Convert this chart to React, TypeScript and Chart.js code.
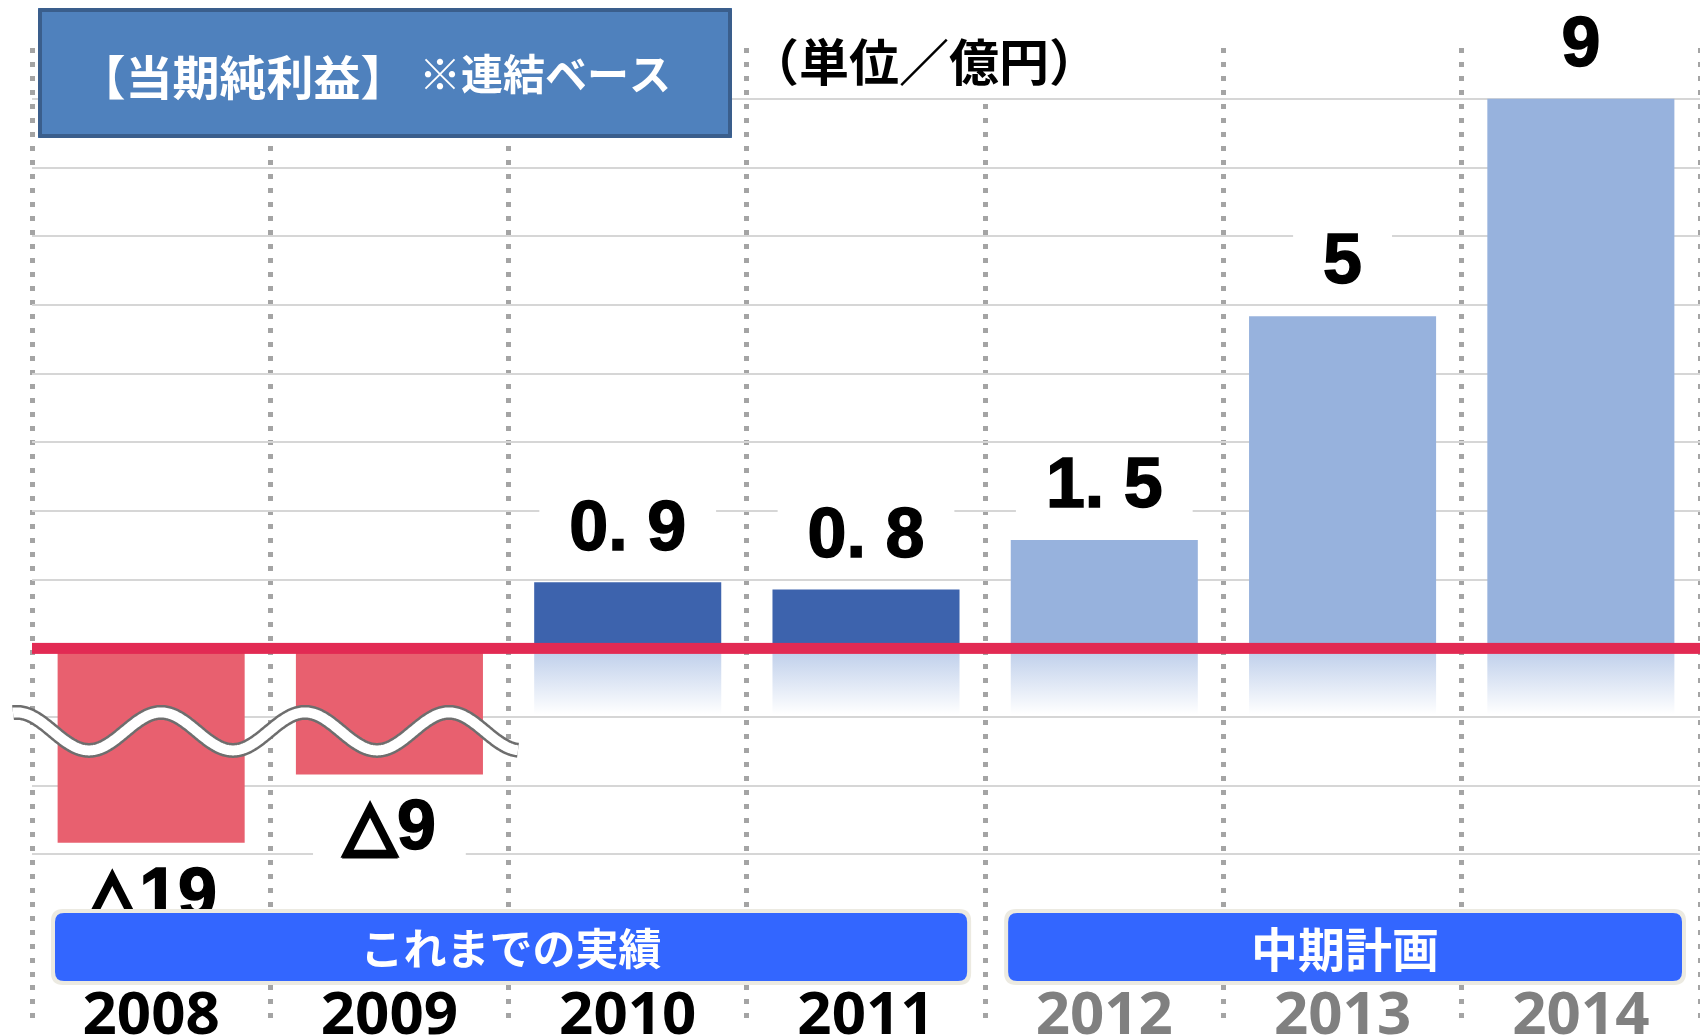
import React, { useEffect, useRef } from 'react';
import { Chart, registerables, LinearScale } from 'chart.js';

Chart.register(...registerables);

// ---------- data ----------
const years = ['2008', '2009', '2010', '2011', '2012', '2013', '2014'];
const netIncome = [-19, -9, 0.9, 0.8, 1.5, 5, 9];
const valueLabels = ['△19', '△9', '0. 9', '0. 8', '1. 5', '5', '9'];
const isPlan = [false, false, false, false, true, true, true];
const titleMain = '【当期純利益】';
const titleSub = '※連結ベース';
const unitLabel = '（単位／億円）';
const actualBandLabel = 'これまでの実績';
const planBandLabel = '中期計画';

// ---------- broken (compressed) value axis ----------
const POS_A = 19.73, POS_C = 18, NEG_A = 1.894, NEG_C = 5.5;
function toAxis(v: number) {
  return v >= 0 ? POS_A * Math.log(1 + v / POS_C) : -NEG_A * Math.log(1 - v / NEG_C);
}
function fromAxis(u: number) {
  return u >= 0 ? POS_C * (Math.exp(u / POS_A) - 1) : -NEG_C * (Math.exp(-u / NEG_A) - 1);
}

class BrokenScale extends LinearScale {
  static id = 'broken';
  static defaults = LinearScale.defaults;
  getPixelForValue(value: any) {
    if (value === null || value === undefined || isNaN(value)) return NaN;
    return super.getPixelForValue(toAxis(value));
  }
  getValueForPixel(pixel: number) {
    return fromAxis(super.getValueForPixel(pixel) as number);
  }
  getPixelForTick(index: number) {
    const ticks = (this as any).ticks;
    if (index < 0 || index > ticks.length - 1) return null as any;
    return super.getPixelForValue(ticks[index].value);
  }
}
Chart.register(BrokenScale as any);

const COLOR_NEG = '#E8606F';
const COLOR_ACTUAL = '#3D63AD';
const COLOR_PLAN = '#97B2DD';
const COLOR_ZERO = '#E22A53';
const BAND_BLUE = '#3366FF';
const BAND_EDGE = '#ECEAE1';
const CJK = '"Noto Sans CJK JP", sans-serif';
const NUM_FONT = '"Liberation Sans", "DejaVu Sans", "Noto Sans CJK JP", sans-serif';

const barColors = netIncome.map((v, i) => (v < 0 ? COLOR_NEG : isPlan[i] ? COLOR_PLAN : COLOR_ACTUAL));

function roundRect(ctx: CanvasRenderingContext2D, x: number, y: number, w: number, h: number, r: number) {
  ctx.beginPath();
  ctx.moveTo(x + r, y);
  ctx.lineTo(x + w - r, y);
  ctx.quadraticCurveTo(x + w, y, x + w, y + r);
  ctx.lineTo(x + w, y + h - r);
  ctx.quadraticCurveTo(x + w, y + h, x + w - r, y + h);
  ctx.lineTo(x + r, y + h);
  ctx.quadraticCurveTo(x, y + h, x, y + h - r);
  ctx.lineTo(x, y + r);
  ctx.quadraticCurveTo(x, y, x + r, y);
  ctx.closePath();
}

const decor = {
  id: 'decor',
  beforeDatasetsDraw(chart: any) {
    const ctx: CanvasRenderingContext2D = chart.ctx;
    const meta = chart.getDatasetMeta(0);
    const zero = chart.scales.y.getPixelForValue(0);
    ctx.save();
    meta.data.forEach((bar: any, i: number) => {
      if (netIncome[i] <= 0) return;
      const { x, width } = bar.getProps(['x', 'width'], true);
      const g = ctx.createLinearGradient(0, zero, 0, zero + 66);
      g.addColorStop(0, '#BCCDEA');
      g.addColorStop(1, '#FFFFFF');
      ctx.fillStyle = g;
      ctx.fillRect(x - width / 2, zero, width, 66);
    });
    ctx.restore();
  },
  afterDatasetsDraw(chart: any) {
    const ctx: CanvasRenderingContext2D = chart.ctx;
    const area = chart.chartArea;
    const xs = chart.scales.x;
    const ys = chart.scales.y;
    const meta = chart.getDatasetMeta(0);
    const zero = ys.getPixelForValue(0);
    ctx.save();

    // zero line
    ctx.fillStyle = COLOR_ZERO;
    ctx.fillRect(area.left, zero - 5.5, area.right - area.left, 11);

    // value labels
    ctx.font = `bold 70px ${NUM_FONT}`;
    ctx.textAlign = 'left';
    ctx.textBaseline = 'middle';
    meta.data.forEach((bar: any, i: number) => {
      const { x, y } = bar.getProps(['x', 'y'], true);
      const label = valueLabels[i];
      const cy = netIncome[i] >= 0 ? y - 52 : y + 55;
      const tw = ctx.measureText(label).width;
      const w = tw + 60;
      ctx.fillStyle = '#FFFFFF';
      ctx.fillRect(x - w / 2, cy - 38, w, 76);
      const xStart = x - tw / 2;
      ctx.fillStyle = '#000000';
      ctx.strokeStyle = '#000000';
      ctx.lineWidth = 1.5;
      ctx.fillText(label, xStart, cy);
      ctx.strokeText(label, xStart, cy);
      // heavier outline for the minus triangle glyph
      if (label.startsWith('△')) {
        const m = ctx.measureText('△');
        const l = xStart - m.actualBoundingBoxLeft;
        const r = xStart + m.actualBoundingBoxRight;
        const t = cy - m.actualBoundingBoxAscent;
        const b = cy + m.actualBoundingBoxDescent;
        ctx.beginPath();
        ctx.moveTo((l + r) / 2, t + 5);
        ctx.lineTo(r - 4, b - 4);
        ctx.lineTo(l + 4, b - 4);
        ctx.closePath();
        ctx.lineJoin = 'miter';
        ctx.lineWidth = 8;
        ctx.stroke();
      }
    });

    // axis break wave
    const catW = (area.right - area.left) / years.length;
    const x0 = area.left - 19;
    const x1 = area.left + 2 * catW + 10;
    const cyw = zero + 83;
    ctx.beginPath();
    for (let x = x0; x <= x1; x += 1) {
      const yy = cyw - 19 * Math.cos((2 * Math.PI * (x - (x0 + 4))) / 144);
      if (x === x0) ctx.moveTo(x, yy);
      else ctx.lineTo(x, yy);
    }
    ctx.lineJoin = 'round';
    ctx.strokeStyle = '#6E6E6E';
    ctx.lineWidth = 15;
    ctx.stroke();
    ctx.strokeStyle = '#FFFFFF';
    ctx.lineWidth = 10;
    ctx.stroke();

    // period bands
    const bottom = area.bottom;
    const bands = [
      { from: 0, to: 3, text: actualBandLabel, size: 43 },
      { from: 4, to: 6, text: planBandLabel, size: 47 },
    ];
    bands.forEach((b) => {
      const left = xs.getPixelForValue(b.from) - catW / 2 + 19;
      const right = xs.getPixelForValue(b.to) + catW / 2 - 14;
      ctx.fillStyle = BAND_EDGE;
      roundRect(ctx, left, bottom - 76, right - left, 76, 12);
      ctx.fill();
      ctx.fillStyle = BAND_BLUE;
      roundRect(ctx, left + 4, bottom - 72, right - left - 8, 68, 9);
      ctx.fill();
      ctx.fillStyle = '#FFFFFF';
      ctx.font = `bold ${b.size}px ${CJK}`;
      ctx.textAlign = 'center';
      ctx.textBaseline = 'middle';
      ctx.fillText(b.text, (left + right) / 2, bottom - 36);
    });

    // title box
    ctx.fillStyle = '#4F81BD';
    ctx.fillRect(38, 8, 694, 130);
    ctx.strokeStyle = '#3A5E8C';
    ctx.lineWidth = 4;
    ctx.strokeRect(40, 10, 690, 126);
    ctx.fillStyle = '#FFFFFF';
    ctx.textAlign = 'center';
    ctx.textBaseline = 'middle';
    ctx.font = `bold 47px ${CJK}`;
    ctx.fillText(titleMain, 243, 77);
    ctx.font = `bold 42px ${CJK}`;
    ctx.fillText(titleSub, 545, 74);

    // unit label
    ctx.fillStyle = '#FFFFFF';
    ctx.fillRect(756, 12, 334, 84);
    ctx.fillStyle = '#000000';
    ctx.font = `bold 50px ${CJK}`;
    ctx.fillText(unitLabel, 924, 62);

    ctx.restore();
  },
};

const gridDots = '#A4A4A4';

export default function App() {
  const ref = useRef<HTMLCanvasElement>(null);
  useEffect(() => {
    const chart = new Chart(ref.current as HTMLCanvasElement, {
      type: 'bar',
      data: {
        labels: years,
        datasets: [
          {
            data: netIncome,
            backgroundColor: barColors,
            borderWidth: 0,
            barPercentage: 0.785,
            categoryPercentage: 1,
          },
        ],
      },
      options: {
        responsive: false,
        animation: false,
        layout: { padding: { top: 48, left: 0, right: 0, bottom: 0 } },
        plugins: {
          legend: { display: false },
          tooltip: { enabled: false },
          title: { display: false },
        },
        scales: {
          x: {
            type: 'category',
            offset: true,
            grid: {
              offset: true,
              color: gridDots,
              lineWidth: 5,
              borderDash: [5, 9],
              drawTicks: true,
              tickLength: 40,
              tickColor: gridDots,
              tickWidth: 5,
              tickBorderDash: [5, 9],
            } as any,
            border: { display: false, dash: [5, 9] },
            ticks: {
              padding: -44,
              autoSkip: false,
              maxRotation: 0,
              color: (c: any) => (isPlan[c.index] ? '#808080' : '#000000'),
              font: { family: '"Noto Sans", sans-serif', size: 60, weight: 'bold' },
            },
            afterFit: (s: any) => {
              s.height = 51;
            },
          },
          y: {
            type: 'broken' as any,
            min: -4.9,
            max: 8.74,
            grid: {
              color: (c: any) =>
                c.tick && c.tick.value >= -3.5 && c.tick.value <= 8.01 ? '#D6D6D6' : 'rgba(0,0,0,0)',
              lineWidth: 2,
              drawTicks: false,
            },
            border: { display: false, dash: [] },
            ticks: { display: false, stepSize: 1, includeBounds: false },
            afterFit: (s: any) => {
              s.width = 32;
            },
          } as any,
        },
      },
      plugins: [decor],
    } as any);
    return () => chart.destroy();
  }, []);
  return (
    <div style={{ position: 'absolute', left: 0, top: 0, width: 1700, height: 1036, background: '#FFFFFF' }}>
      <canvas ref={ref} width={1700} height={1036} style={{ display: 'block', width: 1700, height: 1036 }} />
    </div>
  );
}
